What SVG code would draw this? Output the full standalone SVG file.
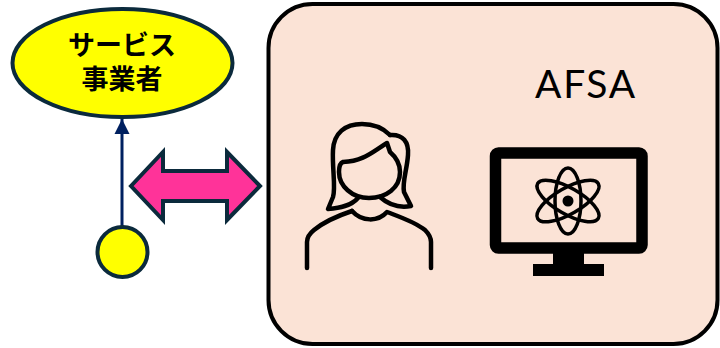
<svg xmlns="http://www.w3.org/2000/svg" width="720" height="348" viewBox="0 0 720 348">
<defs>
<marker id="arr" markerUnits="userSpaceOnUse" markerWidth="16" markerHeight="16" refX="15" refY="8" orient="auto"><path d="M0,0.5 L15,8 L0,15.5 Z" fill="#002060"/></marker>
</defs>
<style>
.shape{fill:#ffff00;stroke:#0b2a3c;stroke-width:4}
.ico{fill:none;stroke:#000;stroke-linecap:round;stroke-linejoin:round}
.jp{font-family:"Liberation Sans","Noto Sans CJK JP",sans-serif;font-weight:700;font-size:27px;fill:#000;text-anchor:middle}
</style>
<rect width="720" height="348" fill="#fff"/>
<g id="panel"><rect x="268.500" y="4" width="449" height="340" rx="44" fill="#fbe3d6" stroke="#000" stroke-width="4"/>
<text x="586" y="98" font-family="Lato,'Liberation Sans',sans-serif" font-size="39" letter-spacing="1.800" fill="#000" text-anchor="middle">AFSA</text></g>
<g id="connectors">
<line x1="122" y1="227" x2="122" y2="119" stroke="#002060" stroke-width="3" marker-end="url(#arr)"/>
<path d="M131,186 L163,152 V171 H227 V152 L260,186 L227,220 V201 H163 V220 Z" fill="#ff3399" stroke="#0b2a3c" stroke-width="4"/>
</g>
<g id="provider"><ellipse cx="122.500" cy="63" rx="110" ry="54" class="shape"/>
<text x="122" y="55" class="jp">サービス</text><text x="122" y="89" class="jp">事業者</text></g>
<g id="user"><circle cx="122.500" cy="252" r="25" class="shape"/></g>
<g id="person" class="ico" stroke-width="4.500">
<path d="M390,135 C382,127 372,124 362,124 C345,124 334,133 333,150 C332,168 336,188 333,197 L328,209 C340,208 351,206 358,198"/>
<path d="M390,135 C403,134 409,142 408,155 C407,170 402,182 404,192 L411,206 C400,208 390,206 380,197"/>
<path d="M343,162 C364,161 372,152 387,143 L390,152 C397,158 400,164 400,172 C400,188 386,198 369,198 C352,198 339,186 339,172 C339,167 340,163 343,162 Z"/>
<path d="M352,211 C362,222 378,222 387,212 C400,217 415,222 425,230 C429,234 431,238 431,242 V268"/>
<path d="M352,211 C340,215 325,221 314,230 C309,234 307,238 307,242 V268"/>
</g>
<g id="monitor">
<rect x="495.500" y="153" width="146.500" height="95" rx="3" fill="none" stroke="#000" stroke-width="11.500"/>
<path d="M553,250 H584 V264 H604 V276 H533 V264 H553 Z" fill="#000"/>
<g class="ico" stroke-width="3.500">
<ellipse cx="568" cy="201" rx="13" ry="33"/>
<ellipse cx="568" cy="201" rx="13" ry="35" transform="rotate(60 568 201)"/>
<ellipse cx="568" cy="201" rx="13" ry="35" transform="rotate(-60 568 201)"/>
</g>
<circle cx="568" cy="201" r="5.500" fill="#000"/>
</g>
</svg>
